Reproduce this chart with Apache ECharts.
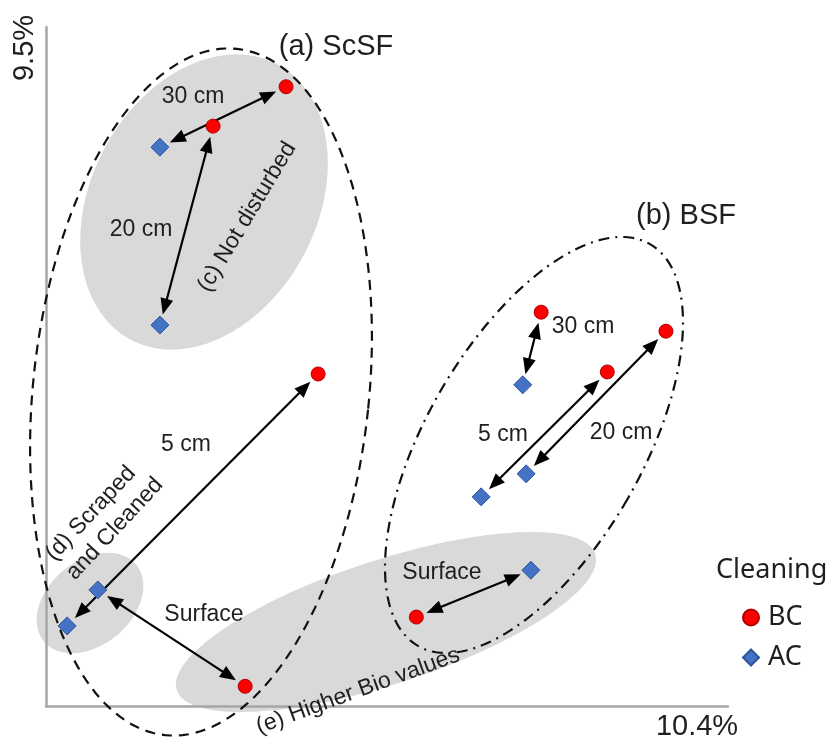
<!DOCTYPE html>
<html>
<head>
<meta charset="utf-8">
<script src="https://cdn.jsdelivr.net/npm/echarts@6/dist/echarts.min.js"></script>
<style>
html,body{margin:0;padding:0;background:#fff;}
#chart{width:830px;height:742px;}
</style>
</head>
<body>
<div id="chart"></div>
<script>
// ---- data (arbitrary ordination units, 0..100 on each axis) ----
const depths = ['30 cm', '20 cm', '5 cm', 'Surface'];
const sites = ['ScSF', 'BSF'];
// BC (before cleaning) points, order follows depths
const bcScSF = [[35.2, 91.2], [24.5, 85.4], [39.9, 48.9], [29.2, 2.9]];
const bcBSF  = [[72.6, 58.0], [90.9, 55.2], [82.3, 49.2], [54.3, 13.1]];
// AC (after cleaning) points, order follows depths
const acScSF = [[16.7, 82.3], [16.7, 56.1], [3.1, 11.8], [7.6, 17.1]];
const acBSF  = [[69.9, 47.3], [70.4, 34.2], [63.8, 30.8], [71.1, 20.0]];
const axisNames = ['10.4%', '9.5%'];
const legendTitle = 'Cleaning';
const legendNames = ['BC', 'AC'];

// arrows link BC and AC of the same site & depth
const arrowPairs = [];
[[bcScSF, acScSF], [bcBSF, acBSF]].forEach(function (pr) {
  pr[0].forEach(function (bc, i) {
    const ac = pr[1][i];
    arrowPairs.push([bc[0], bc[1], ac[0], ac[1]]);
  });
});

// ---- helpers for annotation shapes ----
function ellipsePts(cx, cy, rx, ry, rotDeg) {
  const r = rotDeg * Math.PI / 180, pts = [];
  for (let i = 0; i < 180; i++) {
    const t = 2 * Math.PI * i / 180;
    const u = rx * Math.cos(t), v = ry * Math.sin(t);
    pts.push([cx + u * Math.cos(r) - v * Math.sin(r), cy + u * Math.sin(r) + v * Math.cos(r)]);
  }
  return pts;
}
const FONT = '"Liberation Sans", Arial, sans-serif';
const TXT = '#1f1f1f';
function label(text, x, y, size, rotDeg, extra) {
  return Object.assign({
    type: 'text', x: x, y: y, z: 20,
    rotation: (rotDeg || 0) * Math.PI / 180,
    style: { text: text, font: size + 'px ' + FONT, fill: TXT, align: 'center', verticalAlign: 'middle' }
  }, extra || {});
}
function grayEllipse(cx, cy, rx, ry, rot) {
  return { type: 'polygon', z: 0, silent: true, shape: { points: ellipsePts(cx, cy, rx, ry, rot) },
           style: { fill: '#d9d9d9', stroke: null } };
}
function lineEllipse(cx, cy, rx, ry, rot, dash) {
  return { type: 'polygon', z: 1, silent: true, shape: { points: ellipsePts(cx, cy, rx, ry, rot) },
           style: { fill: null, stroke: '#111', lineWidth: 2.2, lineDash: dash } };
}

const chart = echarts.init(document.getElementById('chart'), null, { renderer: 'canvas' });

const graphics = [
  grayEllipse(204, 202, 113, 156, 28),   // (c)
  grayEllipse(90, 603, 42, 60, 50),      // (d)
  grayEllipse(386, 622, 220, 62, -18),   // (e)
  lineEllipse(201, 392, 168, 345, 6, [10, 7]),          // (a)
  lineEllipse(534, 445, 108, 232, 30, [11, 6, 2, 6]),   // (b)
  label('(a) ' + sites[0], 336, 47, 29),
  label('(b) ' + sites[1], 686, 216, 29),
  label(depths[0], 193, 97, 23),
  label(depths[1], 141, 230, 23),
  label(depths[2], 186, 445, 23),
  label(depths[3], 204, 615, 23),
  label(depths[0], 583, 327, 23),
  label(depths[2], 503, 435, 23),
  label(depths[1], 621, 433, 23),
  label(depths[3], 442, 573, 23),
  label('(c) Not disturbed', 247, 217, 23, 59),
  { type: 'text', x: 60, y: 567, z: 20, rotation: 47 * Math.PI / 180,
    style: { text: '(d) Scraped\nand Cleaned', font: '23px ' + FONT, fill: TXT, align: 'left',
             verticalAlign: 'middle', lineHeight: 28 } },
  label('(e) Higher Bio values', 358, 691, 23, 20),
  label(axisNames[1], 25, 48, 29, 90),
  label(axisNames[0], 697, 727, 29),
  { type: 'text', x: 716, y: 570, z: 20,
    style: { text: legendTitle, font: '27px "Noto Sans", sans-serif', fill: TXT, align: 'left', verticalAlign: 'middle' } }
];

const axisCommon = {
  type: 'value', min: 0, max: 100,
  axisLine: { show: true, onZero: false, lineStyle: { color: '#a6a6a6', width: 2.5 } },
  axisTick: { show: false }, axisLabel: { show: false }, splitLine: { show: false }
};

chart.setOption({
  animation: false,
  backgroundColor: '#fff',
  grid: { left: 46, right: 102, top: 27, bottom: 36 },
  xAxis: axisCommon,
  yAxis: axisCommon,
  legend: {
    orient: 'vertical', left: 737, top: 597,
    itemWidth: 16, itemHeight: 16, itemGap: 9,
    data: [{ name: legendNames[0], icon: 'circle' }, { name: legendNames[1], icon: 'diamond' }],
    textStyle: { fontSize: 27, fontFamily: '"Noto Sans", sans-serif', color: TXT, lineHeight: 31, padding: [0, 0, 0, 4] }
  },
  graphic: { elements: graphics },
  series: [
    {
      type: 'custom', name: 'arrows', silent: true, z: 3,
      data: arrowPairs, encode: { x: [0, 2], y: [1, 3] },
      renderItem: function (params, api) {
        const a = api.coord([api.value(0), api.value(1)]);
        const b = api.coord([api.value(2), api.value(3)]);
        const dx = b[0] - a[0], dy = b[1] - a[1];
        const L = Math.sqrt(dx * dx + dy * dy), ux = dx / L, uy = dy / L;
        const gap = 11, hl = 16, hw = 6.5;
        const ta = [a[0] + ux * gap, a[1] + uy * gap];
        const tb = [b[0] - ux * gap, b[1] - uy * gap];
        function head(tip, dirx, diry) {
          const bx = tip[0] - dirx * hl, by = tip[1] - diry * hl;
          return { type: 'polygon', shape: { points: [tip, [bx - diry * hw, by + dirx * hw], [bx + diry * hw, by - dirx * hw]] },
                   style: { fill: '#000' } };
        }
        return {
          type: 'group',
          children: [
            { type: 'line', shape: { x1: ta[0] + ux * (hl - 2), y1: ta[1] + uy * (hl - 2), x2: tb[0] - ux * (hl - 2), y2: tb[1] - uy * (hl - 2) },
              style: { stroke: '#000', lineWidth: 2.2 } },
            head(ta, -ux, -uy),
            head(tb, ux, uy)
          ]
        };
      }
    },
    {
      type: 'scatter', name: legendNames[0], z: 4,
      symbol: 'circle', symbolSize: 14,
      itemStyle: { color: '#ff0000', borderColor: '#b00000', borderWidth: 1, opacity: 1 },
      data: bcScSF.concat(bcBSF)
    },
    {
      type: 'scatter', name: legendNames[1], z: 4,
      symbol: 'diamond', symbolSize: 18,
      itemStyle: { color: '#4472c4', borderColor: '#2f5597', borderWidth: 1, opacity: 1 },
      data: acScSF.concat(acBSF)
    }
  ]
});
</script>
</body>
</html>
